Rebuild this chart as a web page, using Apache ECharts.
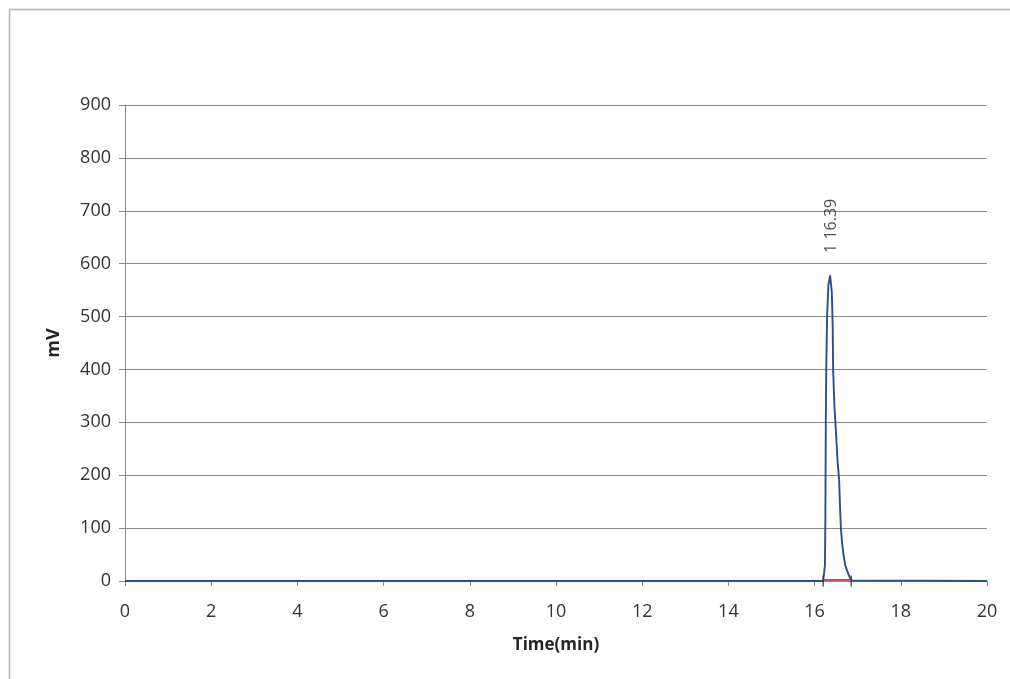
<!DOCTYPE html>
<html>
<head>
<meta charset="utf-8">
<script src="https://cdn.jsdelivr.net/npm/echarts@6/dist/echarts.min.js"></script>
<style>
  html, body { margin: 0; padding: 0; background: #fff; }
  #chart { width: 1010px; height: 679px; }
</style>
</head>
<body>
<div id="chart"></div>
<script>
// Chromatogram signal: retention time (min) and detector response (mV)
const timeMin = [0, 16.20, 16.23, 16.24, 16.25, 16.26, 16.27, 16.29, 16.32, 16.36, 16.39, 16.40, 16.42, 16.43, 16.46, 16.49, 16.53, 16.57, 16.59, 16.61, 16.64, 16.67, 16.71, 16.76, 16.82, 16.86, 16.90, 20];
const signalMv = [0, 0, 2, 30, 120, 300, 400, 500, 560, 578, 575, 545, 480, 400, 330, 290, 230, 190, 140, 100, 70, 50, 30, 18, 6, 1, 0, 0];

// Integrated peak: start/end of the baseline and its label
const peakBaseTime = [16.20, 16.85];
const peakBaseMv = [2, 2];
const peakApex = [16.39, 575];
const peakLabel = ['1', '16.39'];

const xTicks = { min: 0, max: 20, interval: 2 };
const yTicks = { min: 0, max: 900, interval: 100 };

const signal = timeMin.map((t, i) => [t, signalMv[i]]);
const baseline = peakBaseTime.map((t, i) => [t, peakBaseMv[i]]);
const peakMarks = peakBaseTime.map(t => [t, 0]);

const font = '"Open Sans", "DejaVu Sans", sans-serif';
const chart = echarts.init(document.getElementById('chart'));
chart.setOption({
  backgroundColor: '#fff',
  animation: false,
  grid: { left: 125, right: 23, top: 105, bottom: 98 },
  graphic: [
    { type: 'line', shape: { x1: 9, y1: 9.5, x2: 1010, y2: 9.5 }, style: { stroke: '#b5b5b5', lineWidth: 1.5 } },
    { type: 'line', shape: { x1: 9.5, y1: 9, x2: 9.5, y2: 679 }, style: { stroke: '#b5b5b5', lineWidth: 1.5 } }
  ],
  xAxis: {
    type: 'value',
    min: xTicks.min, max: xTicks.max, interval: xTicks.interval,
    name: 'Time(min)', nameLocation: 'middle', nameGap: 56,
    nameTextStyle: { fontFamily: font, fontSize: 17, fontWeight: 'bold', color: '#262626' },
    axisLine: { lineStyle: { color: '#8a8a8a', width: 1 } },
    axisTick: { show: true, length: 5, lineStyle: { color: '#8a8a8a' } },
    axisLabel: { fontFamily: font, fontSize: 18, color: '#333', margin: 22 },
    splitLine: { show: false }
  },
  yAxis: {
    type: 'value',
    min: yTicks.min, max: yTicks.max, interval: yTicks.interval,
    name: 'mV', nameLocation: 'middle', nameGap: 62, nameRotate: 90,
    nameTextStyle: { fontFamily: font, fontSize: 18, fontWeight: 'bold', color: '#262626' },
    axisLine: { show: true, lineStyle: { color: '#8a8a8a', width: 1 } },
    axisTick: { show: true, length: 6, lineStyle: { color: '#8a8a8a' } },
    axisLabel: { fontFamily: font, fontSize: 18, color: '#333', margin: 14 },
    splitLine: { show: true, lineStyle: { color: '#8a8a8a', width: 1 } }
  },
  series: [
    {
      type: 'line', data: signal, showSymbol: false, symbol: 'none',
      lineStyle: { color: '#2a4f8a', width: 1.9 }, z: 3
    },
    {
      type: 'line', data: baseline, showSymbol: false, symbol: 'none',
      lineStyle: { color: '#c8324a', width: 1.8 }, z: 4
    },
    {
      type: 'scatter', data: peakMarks, symbol: 'rect', symbolSize: [1.5, 11],
      itemStyle: { color: '#333' }, z: 5
    },
    {
      type: 'scatter', data: [peakApex], symbolSize: 0,
      label: {
        show: true, position: 'top', distance: 24, rotate: 90,
        align: 'left', verticalAlign: 'middle',
        formatter: peakLabel.join(' '),
        fontFamily: font, fontSize: 16, color: '#222'
      },
      z: 6
    }
  ]
});
</script>
</body>
</html>
